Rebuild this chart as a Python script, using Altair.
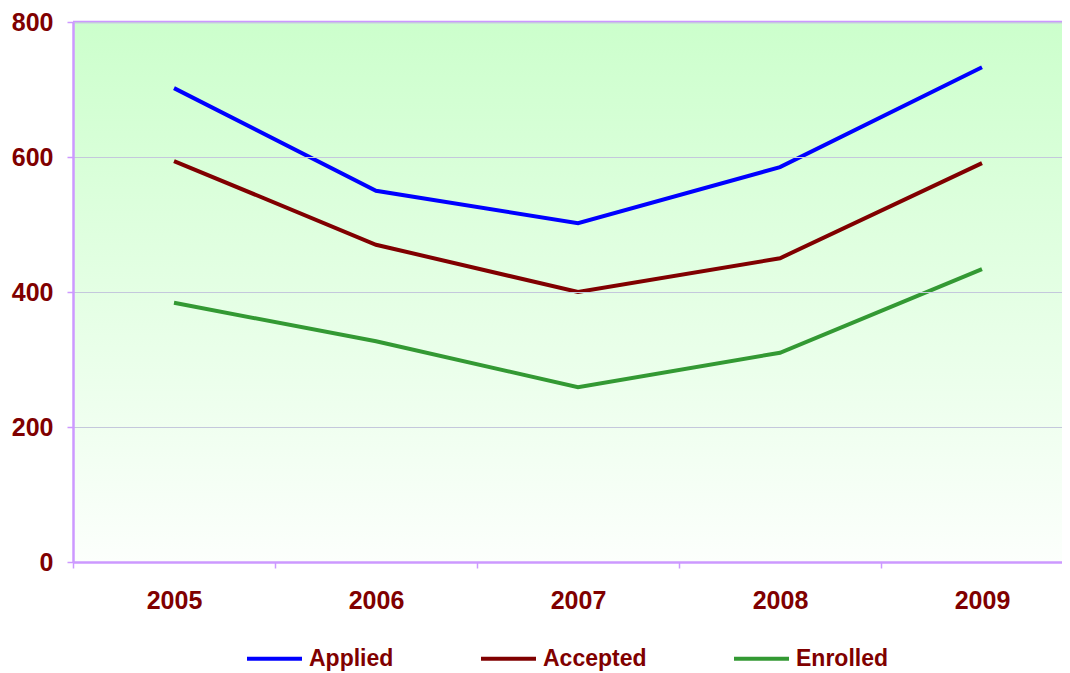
import altair as alt
import pandas as pd

years = ["2005", "2006", "2007", "2008", "2009"]
series_names = ["Applied", "Accepted", "Enrolled"]
applied = [702, 550, 502, 585, 733]
accepted = [594, 470, 400, 450, 591]
enrolled = [384, 327, 259, 310, 434]
y_ticks = [0, 200, 400, 600, 800]
series_colors = ["#0000ff", "#800000", "#339933"]

rows = []
for name, vals in zip(series_names, [applied, accepted, enrolled]):
    for yr, v in zip(years, vals):
        rows.append({"year": yr, "value": v, "series": name})
df = pd.DataFrame(rows)

W = 989
H = 540
PLOT_W = 1010  # band range extends past the right edge, as in the reference

LAV = "#cc99ff"
LABEL_COLOR = "#800000"
FONT = "Liberation Sans"

grad = alt.LinearGradient(
    gradient="linear",
    stops=[alt.GradientStop(color="#ccffcc", offset=0),
           alt.GradientStop(color="#fcfffc", offset=1)],
    x1=0, x2=0, y1=0, y2=1,
)

bg = alt.Chart(pd.DataFrame({"a": [0]})).mark_rect(color=grad).encode(
    x=alt.value(0), x2=alt.value(PLOT_W), y=alt.value(0), y2=alt.value(H)
)

top_rule = alt.Chart(pd.DataFrame({"a": [0]})).mark_rule(color=LAV, strokeWidth=2.5).encode(
    x=alt.value(0), x2=alt.value(PLOT_W), y=alt.value(0)
)

lines = alt.Chart(df).mark_line(strokeWidth=4).encode(
    x=alt.X(
        "year:O",
        bandPosition=0.5,
        scale=alt.Scale(type="band", paddingInner=0, paddingOuter=0, range=[0, PLOT_W]),
        axis=alt.Axis(
            title=None, labelAngle=0, tickBand="extent", zindex=1,
            domainColor=LAV, domainWidth=2.5, tickColor=LAV, tickWidth=1.5, tickSize=6,
            labelFont=FONT, labelFontSize=25, labelFontWeight="bold", labelColor=LABEL_COLOR,
            labelPadding=20, grid=False,
        ),
    ),
    y=alt.Y(
        "value:Q",
        scale=alt.Scale(domain=[0, 800], nice=False),
        axis=alt.Axis(
            title=None, values=y_ticks, zindex=1,
            grid=True, gridColor="#c4c8dc", gridWidth=1,
            domainColor=LAV, domainWidth=2.5, tickColor=LAV, tickWidth=1.5, tickSize=6,
            labelFont=FONT, labelFontSize=25, labelFontWeight="bold", labelColor=LABEL_COLOR,
            labelPadding=14,
        ),
    ),
    color=alt.Color(
        "series:N",
        scale=alt.Scale(domain=series_names, range=series_colors),
        sort=series_names,
        legend=alt.Legend(
            title=None, orient="none", direction="horizontal",
            legendX=172, legendY=607,
            symbolType="stroke", symbolSize=3025, symbolStrokeWidth=4,
            labelFont=FONT, labelFontSize=23, labelFontWeight="bold", labelColor=LABEL_COLOR,
            labelOffset=5, columnPadding=79, padding=0,
        ),
    ),
)

chart = alt.layer(bg, top_rule, lines).properties(
    width=W, height=H,
    autosize=alt.AutoSizeParams(type="none"),
    padding={"left": 65, "top": 14, "right": 0, "bottom": 110},
).configure_view(stroke=None)

chart.save("out.html", embed_options={"renderer": "svg", "actions": False})
